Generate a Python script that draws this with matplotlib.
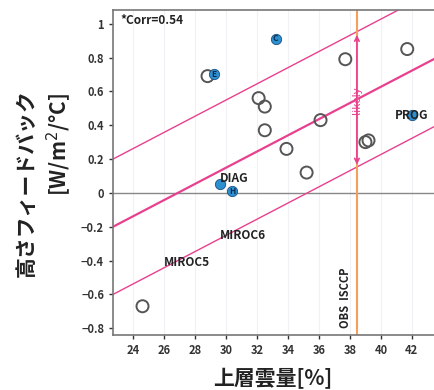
import numpy as np
import matplotlib
matplotlib.use('Agg')
import matplotlib.pyplot as plt

plt.rcParams['font.family'] = ['Noto Sans CJK JP', 'DejaVu Sans']

# open circles: models (upper cloud amount [%], feedback [W/m2/C])
cloud_amt = [28.8, 37.7, 41.7, 32.1, 32.5, 32.5, 36.1, 33.9, 35.2, 39.0, 39.2, 24.6]
feedback = [0.69, 0.79, 0.85, 0.56, 0.51, 0.37, 0.43, 0.26, 0.12, 0.30, 0.31, -0.67]

# highlighted (blue) experiments
hl_x = [29.2, 33.2, 29.6, 30.4, 42.0]
hl_y = [0.70, 0.91, 0.05, 0.01, 0.46]
hl_txt = ['E', 'C', '', 'H', '']

# regression line and likely range
slope = 0.0478
intercept = -1.285
band = 0.40
obs_isccp = 38.45
likely_lo, likely_hi = 0.15, 0.95
corr = 0.54

labels = ['DIAG', 'PROG', 'MIROC6', 'MIROC5']
label_x = [30.5, 42.0, 31.1, 27.5]
label_y = [0.085, 0.46, -0.25, -0.41]

pink = '#e8408f'

fig = plt.figure(figsize=(4.35, 3.9), dpi=100)
ax = fig.add_axes([0.26, 0.141, 0.758, 0.833])
ax.set_xlim(22.7, 44.0)
ax.set_ylim(-0.84, 1.08)

ax.set_xticks(np.arange(24, 44, 2))
ax.set_yticks(np.round(np.arange(-0.8, 1.01, 0.2), 1))
ax.set_yticklabels(['−0.8', '−0.6', '−0.4', '−0.2', '0', '0.2', '0.4', '0.6', '0.8', '1'])
ax.grid(axis='x', color='#f0f0f5', lw=0.8)
ax.set_axisbelow(True)
ax.tick_params(labelsize=8, colors='#333333', length=3, width=1)
for lab in ax.get_xticklabels() + ax.get_yticklabels():
    lab.set_fontweight('bold')
for s in ax.spines.values():
    s.set_color('#777777')
    s.set_linewidth(1.2)

ax.axhline(0, color='#888888', lw=1)

xx = np.array([22.7, 44.0])
ax.plot(xx, slope * xx + intercept, color=pink, lw=1.6)
ax.plot(xx, slope * xx + intercept + band, color=pink, lw=1.0)
ax.plot(xx, slope * xx + intercept - band, color=pink, lw=1.0)

ax.axvline(obs_isccp, color='#f5a05a', lw=1.5)
ax.annotate('', xy=(obs_isccp, likely_hi), xytext=(obs_isccp, likely_lo),
            arrowprops=dict(arrowstyle='<->', color=pink, lw=1.2, mutation_scale=8))
ax.text(obs_isccp, 0.55, 'likely', rotation=90, color=pink, fontsize=8,
        ha='center', va='center')
ax.text(obs_isccp - 0.3, -0.80, 'OBS  ISCCP', rotation=90, color='#222222',
        fontsize=8, fontweight='bold', ha='right', va='bottom')

ax.scatter(cloud_amt, feedback, s=75, facecolors='none', edgecolors='#555555',
           linewidths=1.4, zorder=3)
ax.scatter(hl_x, hl_y, s=55, color='#2b8fd0', edgecolors='#1a4f80',
           linewidths=0.6, zorder=4)
for x, y, t in zip(hl_x, hl_y, hl_txt):
    ax.text(x, y, t, fontsize=6, fontweight='bold', color='#0d2a4a',
            ha='center', va='center', zorder=5)

for t, x, y in zip(labels, label_x, label_y):
    ax.text(x, y, t, fontsize=8.5, fontweight='bold', color='#222222',
            ha='center', va='center', zorder=6)

ax.text(23.2, 1.02, '*Corr=%.2f' % corr, fontsize=8.5, fontweight='bold',
        color='#222222', ha='left', va='center')

fig.text(0.06, 0.53, '高さフィードバック', rotation=90, fontsize=15,
         fontweight='bold', ha='center', va='center', color='#222222')
fig.text(0.135, 0.63, '[W/m$^2$/°C]', rotation=90, fontsize=15,
         fontweight='bold', ha='center', va='center', color='#222222')
fig.text(0.628, 0.03, '上層雲量[%]', fontsize=15, fontweight='bold',
         ha='center', va='center', color='#222222')

fig.savefig('out.png', dpi=100)
